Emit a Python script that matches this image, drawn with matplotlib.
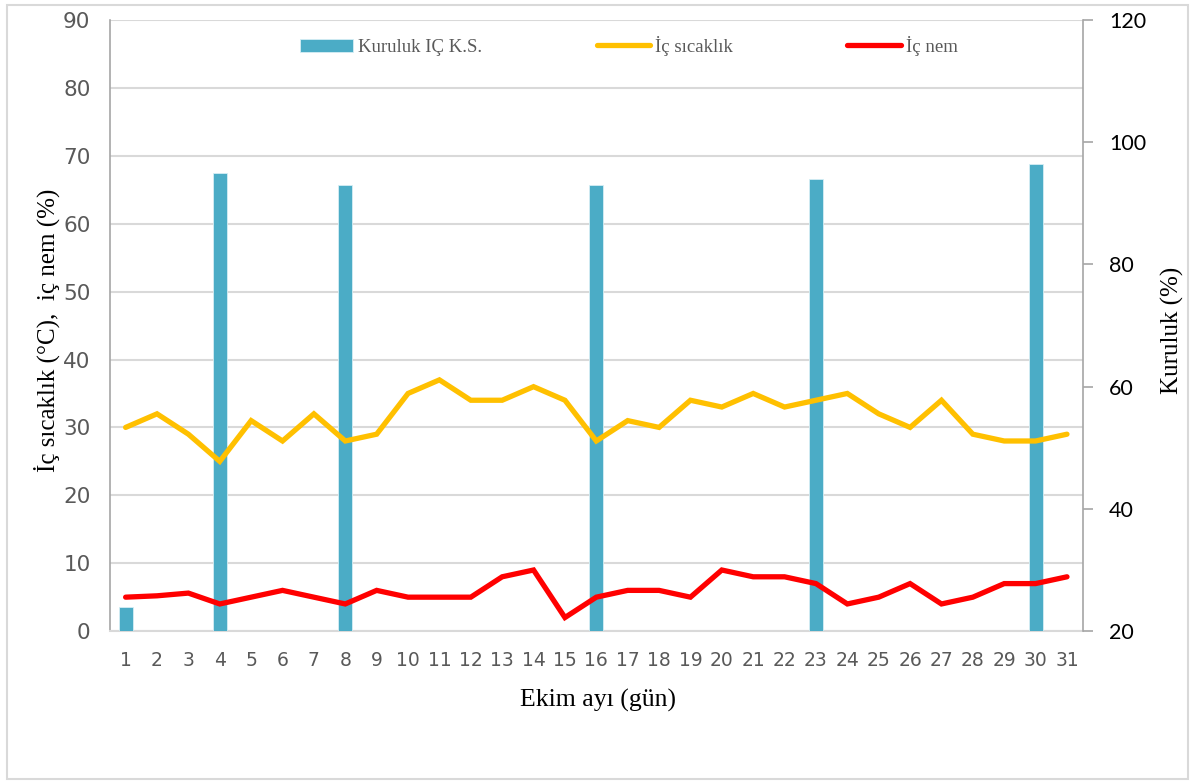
import matplotlib.pyplot as plt
from matplotlib.patches import Rectangle

plt.rcParams['font.family'] = ['DejaVu Sans']

days = list(range(1, 32))
temp = [30, 32, 29, 25, 31, 28, 32, 28, 29, 35, 37, 34, 34, 36, 34, 28,
        31, 30, 34, 33, 35, 33, 34, 35, 32, 30, 34, 29, 28, 28, 29]
nem = [5, 5.2, 5.6, 4, 5, 6, 5, 4, 6, 5, 5, 5, 8, 9, 2, 5,
       6, 6, 5, 9, 8, 8, 7, 4, 5, 7, 4, 5, 7, 7, 8]
kuruluk_days = [1, 4, 8, 16, 23, 30]
kuruluk = [24, 95, 93, 93, 94, 96.5]

gray = '#595959'
narrow = ['Liberation Sans Narrow', 'DejaVu Sans']
serif = ['Liberation Serif', 'DejaVu Serif']

fig = plt.figure(figsize=(11.95, 7.84), dpi=100)
fig.patches.append(Rectangle((0.006, 0.006), 0.988, 0.988, transform=fig.transFigure,
                             fill=False, edgecolor='#d9d9d9', linewidth=1.5))

rect = [0.092, 0.195, 0.814, 0.7795]
ax = fig.add_axes(rect)
ax.set_xlim(0.5, 31.5)
ax.set_ylim(0, 90)
ax.set_yticks(range(0, 91, 10))
ax.grid(axis='y', color='#d9d9d9', linewidth=1.5)
ax.set_axisbelow(True)
for s in ['top', 'right']:
    ax.spines[s].set_visible(False)
ax.spines['left'].set_color('#a6a6a6')
ax.spines['bottom'].set_color('#d9d9d9')
ax.spines['left'].set_linewidth(1.2)
ax.spines['bottom'].set_linewidth(1.5)
ax.tick_params(axis='y', length=0, pad=14, labelsize=15.5, labelcolor=gray)
ax.tick_params(axis='x', length=0, pad=14, labelsize=13.5, labelcolor=gray)
ax.set_xticks(days)
for lbl in ax.get_yticklabels() + ax.get_xticklabels():
    lbl.set_family(narrow)

# bars on the right-hand scale
ax2 = ax.twinx()
ax2.patch.set_visible(False)
ax2.set_ylim(20, 120)
ax2.set_yticks(range(20, 121, 20))
bars = ax2.bar(kuruluk_days, kuruluk, width=0.45, color='#4BACC6',
               edgecolor='#d6eef4', linewidth=0.6, label='Kuruluk IÇ K.S.')
for s in ['top', 'left', 'bottom']:
    ax2.spines[s].set_visible(False)
ax2.spines['right'].set_color('#a6a6a6')
ax2.spines['right'].set_linewidth(1.2)
ax2.tick_params(axis='y', length=7, width=1.2, color='#a6a6a6', pad=12,
                labelsize=15.5, labelcolor='black')
for lbl in ax2.get_yticklabels():
    lbl.set_family(['Lato', 'DejaVu Sans'])

# lines on the left-hand scale, drawn above the bars
ax3 = ax.twinx()
ax3.patch.set_visible(False)
ax3.set_ylim(0, 90)
ax3.axis('off')
l1, = ax3.plot(days, temp, color='#FFC000', linewidth=3.8, solid_joinstyle='miter',
               solid_capstyle='round', label='İç sıcaklık')
l2, = ax3.plot(days, nem, color='#FF0000', linewidth=3.8, solid_joinstyle='miter',
               solid_capstyle='round', label='İç nem')

leg = ax3.legend(handles=[bars, l1, l2], loc='upper left', bbox_to_anchor=(0.195, 0.974),
                 ncol=3, frameon=False, borderpad=0, borderaxespad=0,
                 handlelength=2.85, handletextpad=0.27, columnspacing=6.1,
                 prop={'family': serif, 'size': 13.5})
for t in leg.get_texts():
    t.set_color(gray)

fig.text(0.039, 0.579, 'İç sıcaklık (°C),  iç nem (%)', rotation=90, ha='center',
         va='center', fontsize=18, family=serif)
fig.text(0.981, 0.579, 'Kuruluk (%)', rotation=90, ha='center', va='center',
         fontsize=18, family=serif)
fig.text(0.5, 0.107, 'Ekim ayı (gün)', ha='center', va='center', fontsize=18.5, family=serif)

plt.savefig('out.png', dpi=100)
